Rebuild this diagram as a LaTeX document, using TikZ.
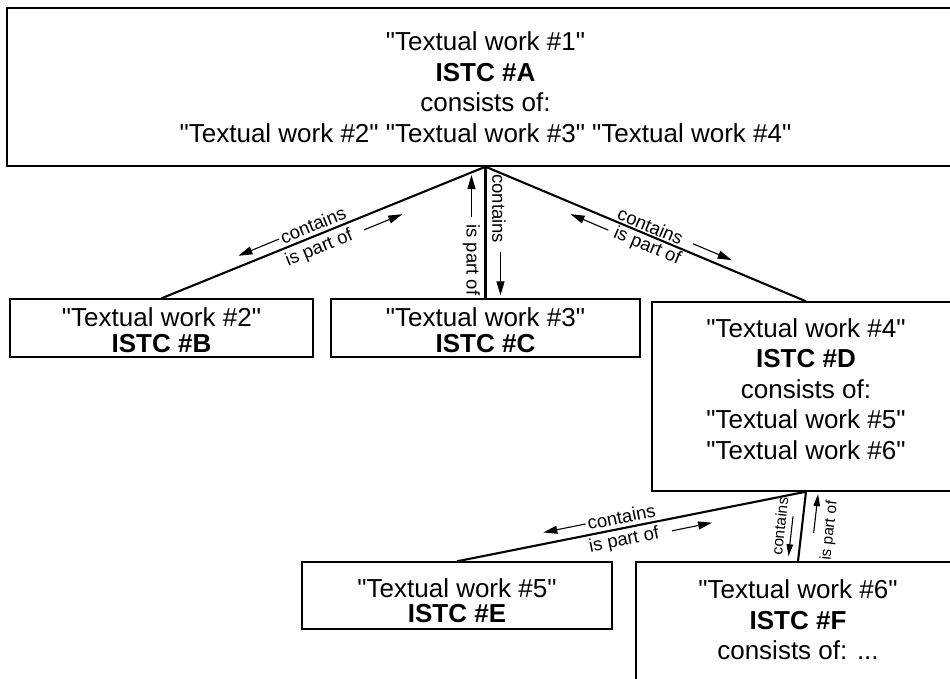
\documentclass[tikz,border=0pt]{standalone}
\usepackage{fontspec}
\setmainfont{Liberation Sans}[Ligatures=TeXOff]
\usetikzlibrary{arrows.meta}
\newcommand{\mainfnt}{\fontsize{26}{30.5}\selectfont}
\newcommand{\twofnt}{\fontsize{26}{25.5}\selectfont}
\newcommand{\lblfnt}{\fontsize{18.5}{20}\selectfont}
\newcommand{\smlfnt}{\fontsize{15.5}{17}\selectfont}
\tikzset{
  box/.style={draw, line width=1.4pt, rectangle, inner sep=0pt, align=center, font=\mainfnt},
  conn/.style={line width=2.1pt},
  lbl/.style={inner sep=0pt, font=\lblfnt},
  slbl/.style={inner sep=0pt, font=\smlfnt},
  arr/.style={line width=1.1pt, -{Triangle[length=14pt,width=8pt]}},
  sarr/.style={line width=1.1pt, -{Triangle[length=12pt,width=6.5pt]}}
}
\begin{document}
\begin{tikzpicture}[x=1pt,y=1pt]
\useasboundingbox (0,0) rectangle (950,-678);
\fill[white] (0,0) rectangle (950,-678);
% boxes
\node[box, minimum width=957pt, minimum height=158pt] (A) at (485.5,-87)
  {"Textual work \#1"\\\textbf{ISTC \#A}\\consists of:\\"Textual work \#2" "Textual work \#3" "Textual work \#4"};
\node[box, font=\twofnt, minimum width=303pt, minimum height=58pt] (B) at (161.5,-328)
  {\rule{0pt}{23pt}"Textual work \#2"\\\textbf{ISTC \#B}};
\node[box, font=\twofnt, minimum width=309pt, minimum height=58pt] (C) at (485.5,-328)
  {\rule{0pt}{23pt}"Textual work \#3"\\\textbf{ISTC \#C}};
\node[box, minimum width=308pt, minimum height=189pt] (D) at (806,-396.5)
  {"Textual work \#4"\\\textbf{ISTC \#D}\\consists of:\\"Textual work \#5"\\"Textual work \#6"\rule[-15pt]{0pt}{1pt}};
\node[box, font=\twofnt, minimum width=310pt, minimum height=67pt] (E) at (457,-595.5)
  {\rule{0pt}{29pt}"Textual work \#5"\\\textbf{ISTC \#E}};
\node[box, minimum width=324pt, minimum height=138pt] (F) at (798,-631)
  {"Textual work \#6"\\\textbf{ISTC \#F}\\consists of: ...\rule[-22pt]{0pt}{1pt}};
% connectors
\draw[conn] (A.south) -- (B.north);
\draw[conn] (A.south) -- (C.north);
\draw[conn] (A.south) -- (D.north);
\draw[conn] (D.south) -- (E.north);
\draw[conn] (D.south) -- (F.north);
% labels A-B
\begin{scope}[shift={(B.north)}, rotate=22.41, transform shape]
  \node[lbl] (ab1) at (168,10) {contains};
  \node[lbl] (ab2) at (165,-14) {is part of};
  \path (ab1.west) ++(-2,0) coordinate (ab1s) ++(-44,0) coordinate (ab1e);
  \path (ab2.east) ++(13,0) coordinate (ab2s) ++(41,0) coordinate (ab2e);
  \draw[arr] (ab1s) -- (ab1e);
  \draw[arr] (ab2s) -- (ab2e);
\end{scope}
% labels A-C
\begin{scope}[shift={(A.south)}, rotate=-90, transform shape]
  \node[lbl] (ac1) at (42,13.5) {contains};
  \node[lbl] (ac2) at (93,-14) {is part of};
  \path (ac1.east) ++(9,1.5) coordinate (ac1s) ++(43,0) coordinate (ac1e);
  \path (ac2.west) ++(-7,0) coordinate (ac2s) ++(-42,0) coordinate (ac2e);
  \draw[arr] (ac1s) -- (ac1e);
  \draw[arr] (ac2s) -- (ac2e);
\end{scope}
% labels A-D
\begin{scope}[shift={(A.south)}, rotate=-22.96, transform shape]
  \node[lbl] (ad1) at (175,10) {contains};
  \node[lbl] (ad2) at (180,-10.5) {is part of};
  \path (ad1.east) ++(11.5,0) coordinate (ad1s) ++(42,0) coordinate (ad1e);
  \path (ad2.west) ++(-6.5,0) coordinate (ad2s) ++(-41,0) coordinate (ad2e);
  \draw[arr] (ad1s) -- (ad1e);
  \draw[arr] (ad2s) -- (ad2e);
\end{scope}
% labels D-E
\begin{scope}[shift={(E.north)}, rotate=11.5, transform shape]
  \node[lbl] (de1) at (170,11) {contains};
  \node[lbl] (de2) at (168,-13) {is part of};
  \path (de1.west) ++(-2,0) coordinate (de1s) ++(-43,0) coordinate (de1e);
  \path (de2.east) ++(13,0) coordinate (de2s) ++(41,0) coordinate (de2e);
  \draw[arr] (de1s) -- (de1e);
  \draw[arr] (de2s) -- (de2e);
\end{scope}
% labels D-F
\begin{scope}[shift={(F.north)}, rotate=83.57, transform shape]
  \node[slbl] (df1) at (33,22) {contains};
  \node[slbl] (df2) at (34,-28) {is part of};
  \draw[sarr] (44,10) -- (4,10);
  \draw[sarr] (30,-12.4) -- (69,-12.4);
\end{scope}
\end{tikzpicture}
\end{document}
